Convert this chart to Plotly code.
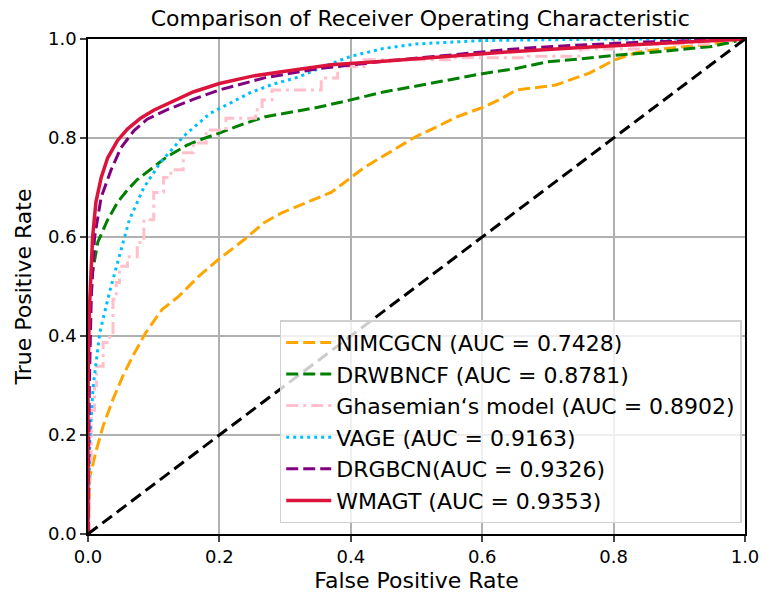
import plotly.graph_objects as go

names = ["NIMCGCN (AUC = 0.7428)", "DRWBNCF (AUC = 0.8781)", "Ghasemian‘s model (AUC = 0.8902)",
         "VAGE (AUC = 0.9163)", "DRGBCN(AUC = 0.9326)", "WMAGT (AUC = 0.9353)"]

nim_x = [0, 0.001, 0.003, 0.013, 0.023, 0.038, 0.053, 0.068, 0.088, 0.113, 0.138, 0.168, 0.198, 0.238, 0.268,
         0.295, 0.337, 0.37, 0.396, 0.42, 0.445, 0.47, 0.498, 0.53, 0.562, 0.603, 0.63, 0.652, 0.712, 0.763,
         0.802, 0.838, 0.888, 0.937, 1]
nim_y = [0, 0.06, 0.117, 0.171, 0.218, 0.272, 0.319, 0.359, 0.407, 0.454, 0.48, 0.52, 0.554, 0.595, 0.629,
         0.649, 0.672, 0.69, 0.716, 0.74, 0.76, 0.78, 0.802, 0.822, 0.843, 0.863, 0.88, 0.897, 0.907, 0.931,
         0.958, 0.974, 0.982, 0.988, 1]

drw_x = [0, 0.001, 0.003, 0.007, 0.015, 0.03, 0.045, 0.06, 0.075, 0.1, 0.12, 0.15, 0.17, 0.2, 0.24, 0.27, 0.3,
         0.35, 0.4, 0.45, 0.5, 0.55, 0.6, 0.65, 0.7, 0.75, 0.8, 0.85, 0.9, 0.95, 1]
drw_y = [0, 0.3, 0.45, 0.53, 0.59, 0.635, 0.67, 0.695, 0.716, 0.742, 0.762, 0.785, 0.796, 0.81, 0.83, 0.843,
         0.85, 0.862, 0.877, 0.893, 0.905, 0.918, 0.93, 0.94, 0.954, 0.96, 0.967, 0.972, 0.978, 0.985, 1]

gha_x = [0, 0.002, 0.005, 0.01, 0.013, 0.023, 0.033, 0.038, 0.043, 0.048, 0.06, 0.075, 0.085, 0.1, 0.115, 0.126,
         0.145, 0.16, 0.18, 0.21, 0.255, 0.265, 0.28, 0.355, 0.38, 0.42, 0.55, 0.67, 0.75, 0.85, 0.95, 1]
gha_y = [0, 0.14, 0.25, 0.3, 0.339, 0.387, 0.407, 0.474, 0.508, 0.541, 0.56, 0.589, 0.635, 0.69, 0.72, 0.736,
         0.77, 0.79, 0.816, 0.84, 0.857, 0.877, 0.897, 0.921, 0.944, 0.958, 0.962, 0.965, 0.98, 0.99, 0.997, 1]

vage_x = [0, 0.001, 0.003, 0.008, 0.018, 0.033, 0.048, 0.063, 0.085, 0.11, 0.145, 0.186, 0.22, 0.246, 0.28,
          0.32, 0.36, 0.4, 0.45, 0.5, 0.6, 0.7, 0.8, 0.9, 1]
vage_y = [0, 0.1, 0.2, 0.3, 0.407, 0.49, 0.56, 0.635, 0.70, 0.75, 0.803, 0.85, 0.873, 0.891, 0.908, 0.923,
          0.945, 0.965, 0.981, 0.99, 0.997, 0.999, 1, 1, 1]

drg_x = [0, 0.002, 0.005, 0.01, 0.02, 0.035, 0.05, 0.07, 0.09, 0.12, 0.16, 0.2, 0.27, 0.35, 0.45, 0.55, 0.65,
         0.75, 0.85, 0.95, 1]
drg_y = [0, 0.3, 0.48, 0.6, 0.68, 0.735, 0.78, 0.815, 0.838, 0.857, 0.878, 0.897, 0.922, 0.94, 0.955, 0.968,
         0.98, 0.988, 0.994, 0.998, 1]

wma_x = [0, 0, 0.002, 0.004, 0.007, 0.012, 0.02, 0.03, 0.045, 0.06, 0.08, 0.1, 0.13, 0.16, 0.2, 0.25, 0.3,
         0.37, 0.45, 0.55, 0.65, 0.75, 0.85, 0.95, 1]
wma_y = [0, 0.3, 0.45, 0.53, 0.6, 0.67, 0.72, 0.76, 0.795, 0.818, 0.84, 0.856, 0.875, 0.893, 0.91, 0.925,
         0.935, 0.948, 0.955, 0.965, 0.975, 0.983, 0.99, 0.996, 1]

diag = [0, 1]

xticks = [0.0, 0.2, 0.4, 0.6, 0.8, 1.0]
yticks = [0.0, 0.2, 0.4, 0.6, 0.8, 1.0]

fig = go.Figure()
series = [
    (nim_x, nim_y, names[0], "orange", "12px,5px", 3, "linear"),
    (drw_x, drw_y, names[1], "green", "12px,5px", 3, "linear"),
    (gha_x, gha_y, names[2], "pink", "12px,5px,3px,5px", 3, "hv"),
    (vage_x, vage_y, names[3], "deepskyblue", "3px,4px", 3, "linear"),
    (drg_x, drg_y, names[4], "purple", "12px,5px", 3, "linear"),
    (wma_x, wma_y, names[5], "crimson", "solid", 3.5, "linear"),
]
for i, (x, y, n, c, d, w, sh) in enumerate(series):
    fig.add_trace(go.Scatter(x=x, y=y, mode="lines", name=n, legendgroup=str(i),
                             line=dict(color=c, dash=d, width=w, shape=sh)))

fig.add_trace(go.Scatter(x=diag, y=diag, mode="lines", showlegend=False,
                         line=dict(color="black", dash="12px,6px", width=3)))

fig.update_layout(
    width=771, height=601,
    margin=dict(l=88, r=16, t=39, b=66),
    paper_bgcolor="white", plot_bgcolor="white",
    font=dict(family="DejaVu Sans", size=18, color="black"),
    title=dict(text="Comparison of Receiver Operating Characteristic", x=0.545, xanchor="center",
               y=1 - 18 / 601, yanchor="middle", font=dict(size=22)),
    legend=dict(x=0.995, xanchor="right", y=0.022, yanchor="bottom",
                bgcolor="rgba(255,255,255,0.8)", bordercolor="#d0d0d0", borderwidth=1.5,
                font=dict(size=22), tracegroupgap=0, itemwidth=45),
    showlegend=True,
)
fig.update_xaxes(range=[0, 1], tickvals=xticks, ticktext=[f"{v:.1f}" for v in xticks],
                 showgrid=True, gridcolor="#b0b0b0", gridwidth=1.5,
                 showline=True, linecolor="black", linewidth=1.5, mirror=True,
                 ticks="outside", ticklen=6, tickwidth=1.5,
                 title=dict(text="False Positive Rate", font=dict(size=22), standoff=6), zeroline=False)
fig.update_yaxes(range=[0, 1], tickvals=yticks, ticktext=[f"{v:.1f}" for v in yticks],
                 showgrid=True, gridcolor="#b0b0b0", gridwidth=1.5,
                 showline=True, linecolor="black", linewidth=1.5, mirror=True,
                 ticks="outside", ticklen=6, tickwidth=1.5,
                 title=dict(text="True Positive Rate", font=dict(size=22), standoff=10), zeroline=False)

fig.write_html("out.html")
